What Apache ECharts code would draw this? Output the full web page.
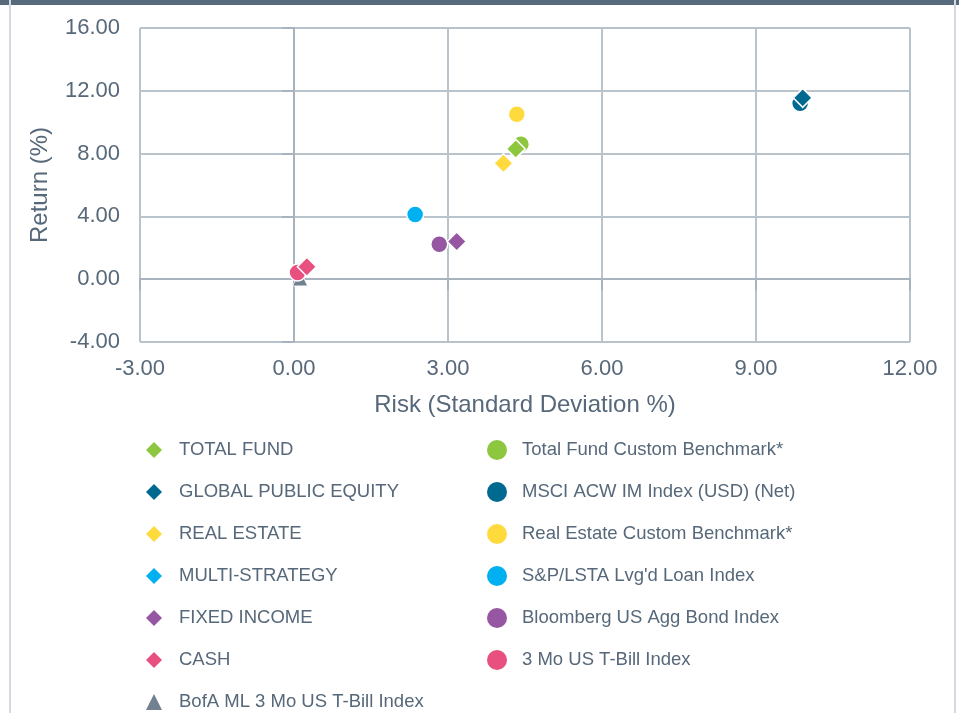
<!DOCTYPE html>
<html>
<head>
<meta charset="utf-8">
<script src="https://cdn.jsdelivr.net/npm/echarts@6/dist/echarts.min.js"></script>
<style>
  html, body { margin: 0; padding: 0; background: #fff; }
  #chart { width: 959px; height: 713px; }
</style>
</head>
<body>
<div id="chart"></div>
<script>
// composite names (diamonds) and benchmark names (circles)
const fundNames = ['TOTAL FUND', 'GLOBAL PUBLIC EQUITY', 'REAL ESTATE', 'MULTI-STRATEGY', 'FIXED INCOME', 'CASH'];
const benchNames = ['Total Fund Custom Benchmark*', 'MSCI ACW IM Index (USD) (Net)', 'Real Estate Custom Benchmark*',
  'S&P/LSTA Lvg\'d Loan Index', 'Bloomberg US Agg Bond Index', '3 Mo US T-Bill Index'];
const colors = ['#8dc63f', '#006990', '#ffda3d', '#00b0f0', '#9656a2', '#e8517f'];

// [risk, return]
const fundPoints = [
  [4.32, 8.30],
  [9.91, 11.55],
  [4.08, 7.38],
  null,
  [3.17, 2.40],
  [0.25, 0.79]
];
const benchPoints = [
  [4.42, 8.60],
  [9.86, 11.20],
  [4.34, 10.50],
  [2.36, 4.12],
  [2.83, 2.23],
  [0.07, 0.43]
];
const tbillName = 'BofA ML 3 Mo US T-Bill Index';
const tbillPoint = [0.12, 0.05];

const yTicks = { min: -4, max: 16, step: 4 };
const xTicks = { min: -3, max: 12, step: 3 };

const textColor = '#566879';
const lineColor = '#a7b3bf';
const gridColor = '#b9c3cc';
const font = '"Liberation Sans", Arial, sans-serif';

const chart = echarts.init(document.getElementById('chart'));

const series = [];
series.push({
  name: tbillName,
  type: 'scatter',
  symbol: 'triangle',
  symbolSize: 15,
  itemStyle: { color: '#4f6273', borderColor: '#fff', borderWidth: 1 },
  data: [tbillPoint]
});
benchNames.forEach((n, i) => {
  series.push({
    name: n,
    type: 'scatter',
    symbol: 'circle',
    symbolSize: 17,
    itemStyle: { color: colors[i], borderColor: '#fff', borderWidth: 1.5, opacity: 1 },
    data: [benchPoints[i]]
  });
});
fundNames.forEach((n, i) => {
  series.push({
    name: n,
    type: 'scatter',
    symbol: 'diamond',
    symbolSize: 19,
    itemStyle: { color: colors[i], borderColor: '#fff', borderWidth: 1.5, opacity: 1 },
    data: fundPoints[i] ? [fundPoints[i]] : []
  });
});

const legendText = {
  color: textColor,
  fontFamily: font,
  fontSize: 18.5,
  lineHeight: 20
};

function legendBox(left, top, size, names, icon, pad) {
  return {
    orient: 'vertical',
    left: left,
    top: top,
    itemWidth: size,
    itemHeight: size,
    itemGap: 22,
    selectedMode: false,
    itemStyle: { borderWidth: 0 },
    data: names.map(n => ({ name: n, icon: icon })),
    textStyle: Object.assign({ padding: [0, 0, 0, pad] }, legendText)
  };
}

const option = {
  animation: false,
  backgroundColor: '#fff',
  textStyle: { fontFamily: font },
  graphic: [
    { type: 'rect', left: 0, top: 0, shape: { width: 959, height: 5 }, style: { fill: '#566a7b' } },
    { type: 'rect', left: 9, top: 0, shape: { width: 2, height: 713 }, style: { fill: '#d3d9df' } },
    { type: 'rect', left: 954, top: 0, shape: { width: 2, height: 713 }, style: { fill: '#d3d9df' } }
  ],
  grid: { left: 140, right: 49, top: 28, bottom: 371, containLabel: false },
  legend: [
    legendBox(141, 435, 16, fundNames, 'diamond', 12),
    legendBox(141, 687, 16, [tbillName], 'triangle', 12),
    legendBox(482, 435, 20, benchNames, 'circle', 10)
  ],
  xAxis: {
    type: 'value',
    min: xTicks.min,
    max: xTicks.max,
    interval: xTicks.step,
    name: 'Risk (Standard Deviation %)',
    nameLocation: 'middle',
    nameGap: 51,
    nameTextStyle: { color: textColor, fontSize: 24, fontFamily: font },
    axisLine: { show: true, lineStyle: { color: lineColor, width: 2 } },
    axisTick: { show: true, length: 11, lineStyle: { color: lineColor, width: 2 } },
    axisLabel: { color: textColor, fontSize: 22, margin: 16, formatter: v => v.toFixed(2) },
    splitLine: { show: true, lineStyle: { color: gridColor, width: 2 } }
  },
  yAxis: {
    type: 'value',
    min: yTicks.min,
    max: yTicks.max,
    interval: yTicks.step,
    name: 'Return (%)',
    nameLocation: 'middle',
    nameGap: 88,
    nameTextStyle: { color: textColor, fontSize: 24, fontFamily: font },
    axisLine: { show: true, lineStyle: { color: lineColor, width: 2 } },
    axisTick: { show: true, length: 12, lineStyle: { color: lineColor, width: 2 } },
    axisLabel: { color: textColor, fontSize: 22, margin: 20, formatter: v => v.toFixed(2) },
    splitLine: { show: true, lineStyle: { color: gridColor, width: 2 } }
  },
  series: series
};

chart.setOption(option);
</script>
</body>
</html>
